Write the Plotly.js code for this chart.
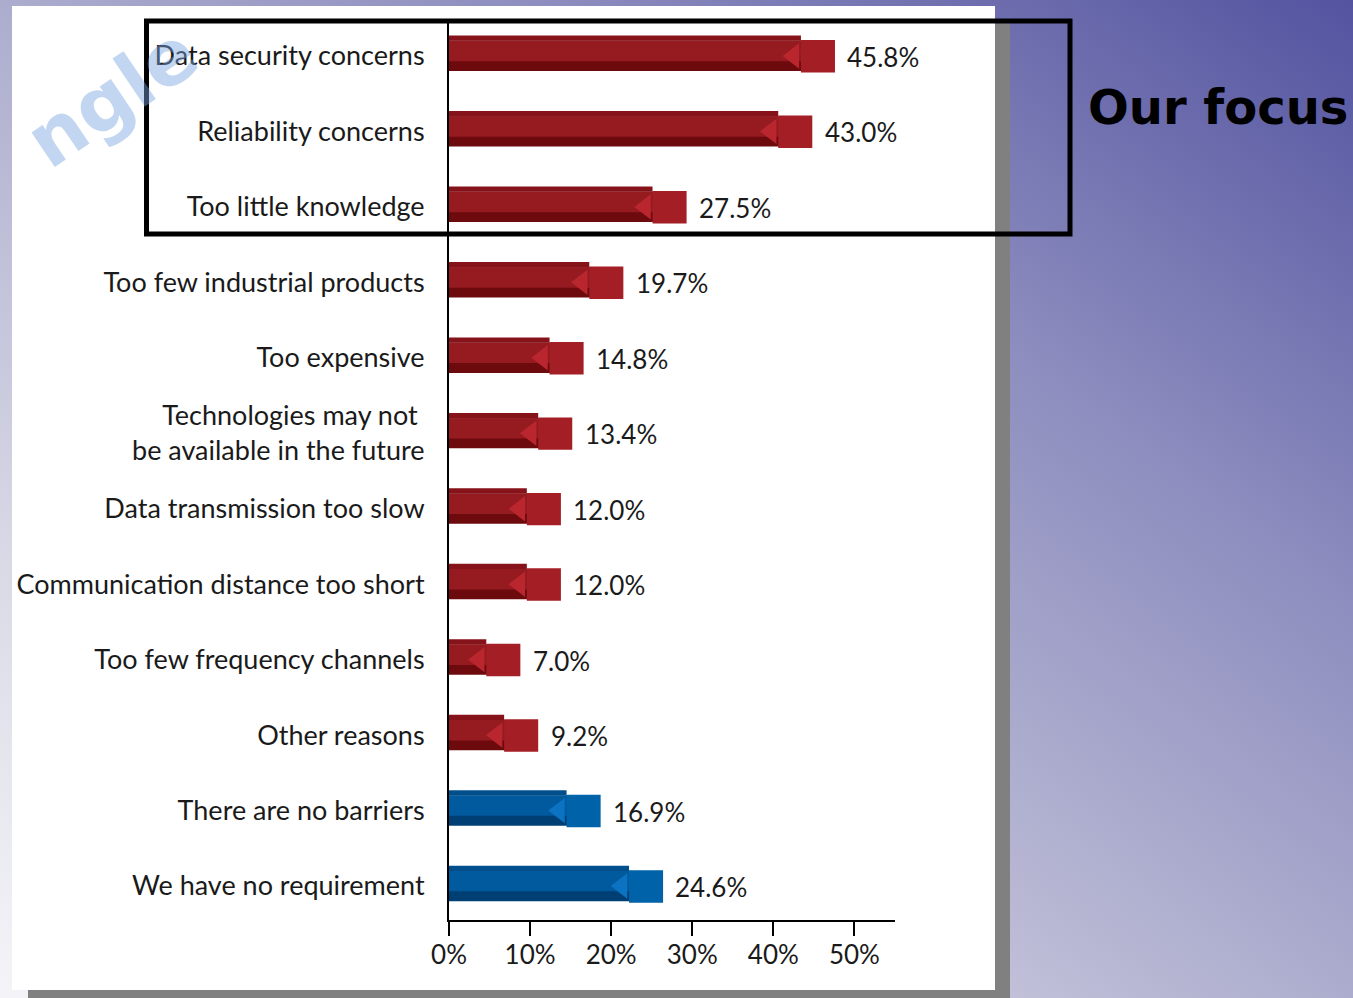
<!DOCTYPE html>
<html>
<head>
<meta charset="utf-8">
<script src="https://cdn.plot.ly/plotly-3.0.1.min.js"></script>
<style>
html, body { margin: 0; padding: 0; width: 1353px; height: 998px; overflow: hidden; }
#chart { width: 1353px; height: 998px;
  background: linear-gradient(to bottom left, #5353a0 0%, #8d8dbf 30%, #b4b4d2 55%, #dcdce8 80%, #f4f4f8 100%); }
</style>
</head>
<body>
<div id="chart"></div>
<script>
// ---- data ----
const categories = [
  "Data security concerns",
  "Reliability concerns",
  "Too little knowledge",
  "Too few industrial products",
  "Too expensive",
  "Technologies may not <br>be available in the future",
  "Data transmission too slow",
  "Communication distance too short",
  "Too few frequency channels",
  "Other reasons",
  "There are no barriers",
  "We have no requirement"
];
const values = [45.8, 43.0, 27.5, 19.7, 14.8, 13.4, 12.0, 12.0, 7.0, 9.2, 16.9, 24.6];
const groups = ["barrier", "barrier", "barrier", "barrier", "barrier", "barrier",
                "barrier", "barrier", "barrier", "barrier", "none", "none"];
const xTickVals = [0, 10, 20, 30, 40, 50];
const xTickText = ["0%", "10%", "20%", "30%", "40%", "50%"];
const focusText = "Our focus";
const watermarkText = "ngle";

// ---- styles ----
const palette = {
  barrier: { top: "#86131a", dark: "#6c0a0e", main: "#951b20", cap: "#a31f25", tri: "#b9262d" },
  none:    { top: "#004f8c", dark: "#003f74", main: "#005a9d", cap: "#0062a8", tri: "#0b73c2" }
};
const FONT = "Lato, 'Open Sans', sans-serif";
const W = 1353, H = 998;
const L = 449, R = 895, T = 22, B = 920;
const px = x => (x - L) / (R - L);
const py = y => (B - y) / (B - T);

const col = k => groups.map(g => palette[g][k]);
const CAP_BACK = 2.4, CAP_LEN = 4.2;

const traces = [
  { type: "bar", orientation: "h", x: values.map(v => v - CAP_BACK), y: categories, width: 0.07, offset: -0.27,
    marker: { color: col("top"), line: { width: 0 } }, hoverinfo: "skip" },
  { type: "bar", orientation: "h", x: values, y: categories, width: 0.40, offset: -0.20,
    marker: { color: col("dark"), line: { width: 0 } }, hoverinfo: "skip" },
  { type: "bar", orientation: "h", x: values, y: categories, width: 0.27, offset: -0.20,
    marker: { color: col("main"), line: { width: 0 } }, hoverinfo: "skip" },
  { type: "bar", orientation: "h", x: values.map(() => CAP_LEN), base: values.map(v => v - CAP_BACK),
    y: categories, width: 0.43, offset: -0.21,
    marker: { color: col("cap"), line: { width: 0 } }, hoverinfo: "skip" },
  { type: "scatter", mode: "markers", x: values.map(v => v - CAP_BACK - 0.9), y: categories,
    marker: { symbol: "triangle-left", size: 22, color: col("tri"), line: { width: 0 } },
    hoverinfo: "skip", cliponaxis: false }
];

const annotations = values.map((v, i) => ({
  x: v, y: categories[i], xref: "x", yref: "y", xanchor: "left", yanchor: "middle",
  xshift: 25, yshift: -1, showarrow: false, text: v.toFixed(1) + "%",
  font: { family: FONT, size: 26, color: "#1a1a1a" }
}));
annotations.push({
  xref: "paper", yref: "paper", x: px(1218), y: py(107), xanchor: "center", yanchor: "middle",
  showarrow: false, text: focusText,
  font: { family: "'DejaVu Sans', sans-serif", size: 48, color: "#000", weight: "bold" }
});
annotations.push({
  xref: "paper", yref: "paper", x: px(112), y: py(97), xanchor: "center", yanchor: "middle",
  showarrow: false, text: watermarkText, textangle: -34,
  font: { family: "'DejaVu Sans', sans-serif", size: 76, color: "rgba(120,165,225,0.45)", weight: "bold" }
});

const shapes = [
  { type: "rect", xref: "paper", yref: "paper", x0: px(28), x1: px(1010), y0: py(998), y1: py(20),
    fillcolor: "#808080", line: { width: 0 }, layer: "below" },
  { type: "rect", xref: "paper", yref: "paper", x0: px(12), x1: px(995), y0: py(990), y1: py(6),
    fillcolor: "#ffffff", line: { width: 0 }, layer: "below" },
  { type: "rect", xref: "paper", yref: "paper", x0: px(146.5), x1: px(1070), y0: py(234), y1: py(21),
    fillcolor: "rgba(0,0,0,0)", line: { color: "#000", width: 5 }, layer: "above" }
];

const layout = {
  width: W, height: H,
  margin: { l: L, r: W - R, t: T, b: H - B, pad: 0 },
  paper_bgcolor: "rgba(0,0,0,0)",
  plot_bgcolor: "rgba(0,0,0,0)",
  showlegend: false,
  barmode: "overlay",
  xaxis: {
    range: [0, 55], tickvals: xTickVals, ticktext: xTickText,
    showline: true, linecolor: "#000", linewidth: 2,
    ticks: "outside", ticklen: 14, tickwidth: 2, tickcolor: "#000",
    showgrid: false, zeroline: false, ticklabelstandoff: -3,
    tickfont: { family: FONT, size: 26, color: "#1a1a1a" }
  },
  yaxis: {
    type: "category", range: [11.45, -0.45],
    showline: true, linecolor: "#000", linewidth: 2,
    ticks: "", showgrid: false, zeroline: false, ticklabelstandoff: 17,
    tickfont: { family: FONT, size: 27, color: "#1a1a1a" }
  },
  shapes: shapes,
  annotations: annotations,
  font: { family: FONT }
};

Plotly.newPlot("chart", traces, layout, { displayModeBar: false, staticPlot: true });
</script>
</body>
</html>
